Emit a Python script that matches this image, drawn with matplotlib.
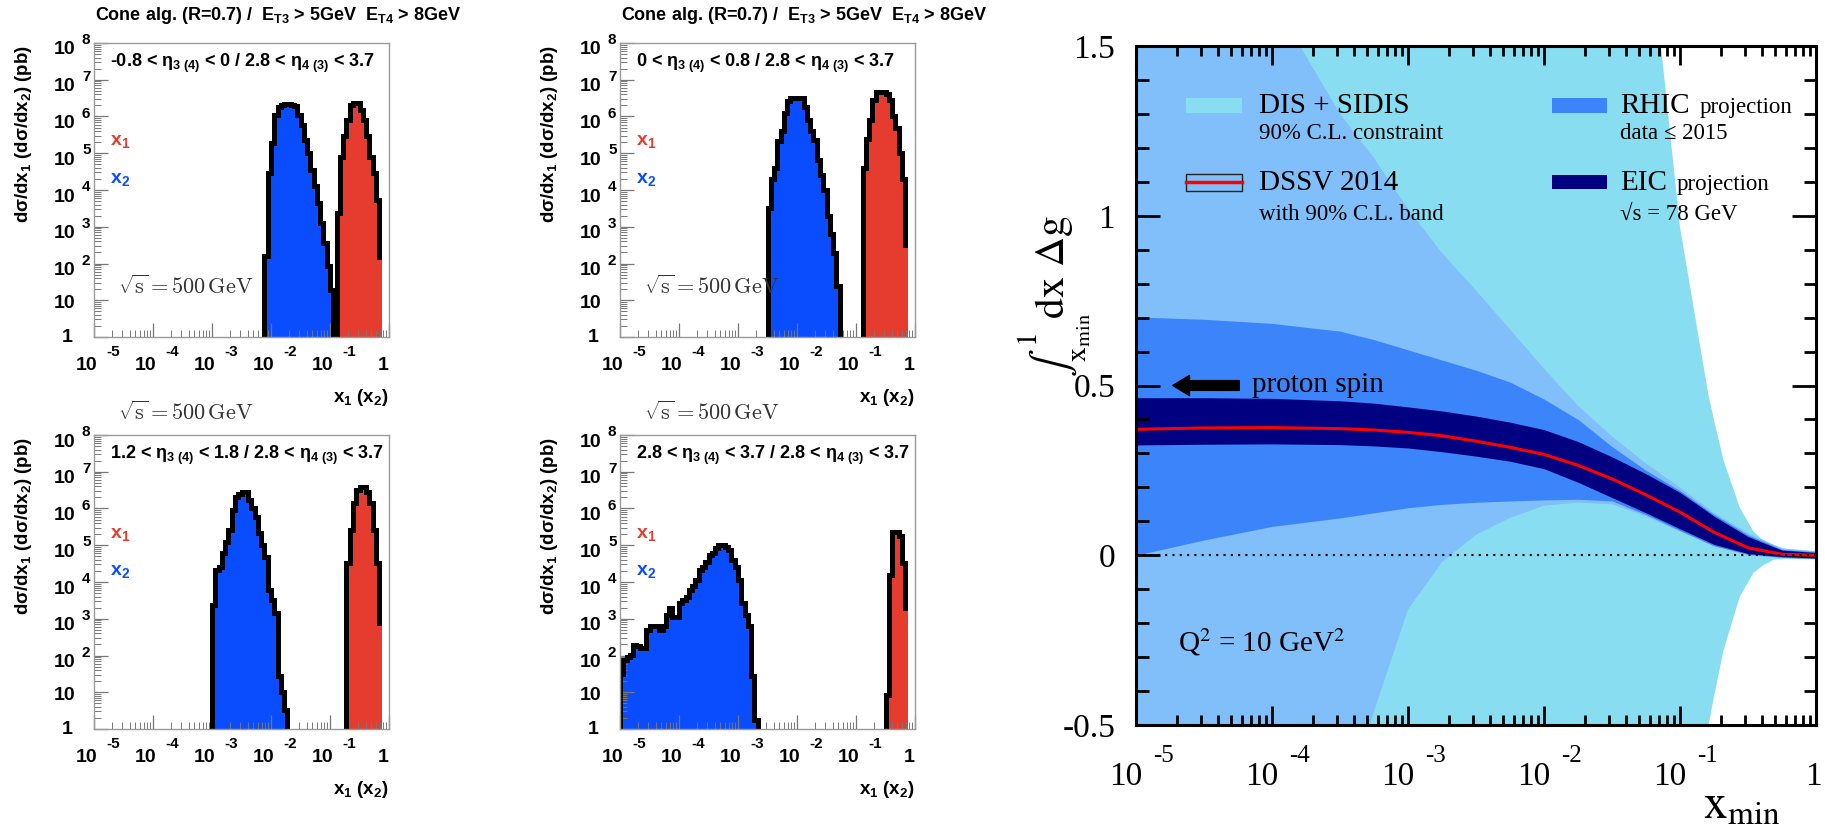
import numpy as np
import matplotlib
matplotlib.use("Agg")
import matplotlib.pyplot as plt
from matplotlib.patches import Rectangle
from matplotlib.ticker import LogLocator, MultipleLocator, NullFormatter, FuncFormatter

plt.rcParams["font.family"] = "Liberation Sans"
plt.rcParams["mathtext.fontset"] = "custom"
plt.rcParams["mathtext.rm"] = "Liberation Sans:bold"
plt.rcParams["mathtext.it"] = "Liberation Sans:bold"
plt.rcParams["mathtext.bf"] = "Liberation Sans:bold"
plt.rcParams["mathtext.sf"] = "Liberation Sans:bold"

W, H = 1825, 838

# ---------------- x1 / x2 distributions (log10 of dsigma/dx per bin) ----------------
# 18 log bins per decade between x = 1e-5 and 1
edges = np.linspace(-5.0, 0.0, 91)

cut_tl = r"-0.8 < η$_{3\ (4)}$ < 0 / 2.8 < η$_{4\ (3)}$ < 3.7"
cut_tr = r"0 < η$_{3\ (4)}$ < 0.8 / 2.8 < η$_{4\ (3)}$ < 3.7"
cut_bl = r"1.2 < η$_{3\ (4)}$ < 1.8 / 2.8 < η$_{4\ (3)}$ < 3.7"
cut_br = r"2.8 < η$_{3\ (4)}$ < 3.7 / 2.8 < η$_{4\ (3)}$ < 3.7"

tl_x2_first = 52
tl_x2 = [2.2, 4.46, 5.28, 6.05, 6.27, 6.31, 6.33, 6.33, 6.31, 6.28, 6.05, 5.78,
         5.37, 5.0, 4.55, 4.1, 3.64, 3.1, 2.56, 1.92, 1.29]
tl_x1_first = 74
tl_x1 = [3.37, 4.91, 5.46, 5.91, 6.3, 6.37, 6.37, 6.18, 5.91, 5.46, 4.91, 4.46, 3.74, 2.19]

tr_x2_first = 45
tr_x2 = [3.51, 4.3, 4.6, 5.32, 5.6, 6.1, 6.41, 6.5, 6.5, 6.5, 6.5, 6.27, 5.91, 5.6,
         5.37, 4.82, 4.4, 4.0, 3.28, 2.8, 2.29, 1.38]
tr_x1_first = 74
tr_x1 = [4.6, 5.4, 5.9, 6.45, 6.68, 6.68, 6.68, 6.6, 6.45, 6.0, 5.7, 5.0, 4.3, 2.51]

bl_x2_first = 36
bl_x2 = [3.38, 4.33, 4.4, 4.78, 5.1, 5.42, 5.96, 6.32, 6.4, 6.46, 6.46, 6.23, 6.0,
         5.78, 5.33, 5.0, 4.69, 3.79, 3.5, 3.15, 1.43, 1.0, 0.53]
bl_x1_first = 77
bl_x1 = [4.51, 5.42, 6.14, 6.5, 6.59, 6.59, 6.46, 6.14, 5.42, 4.51, 2.88]

br_x2_first = 0
br_x2 = [1.5, 1.88, 1.95, 2.02, 2.29, 2.25, 2.2, 2.2, 2.7, 2.79, 2.79, 2.79, 2.7, 2.8,
         3.1, 3.29, 3.06, 3.06, 3.42, 3.5, 3.6, 3.78, 3.9, 4.06, 4.33, 4.4, 4.55, 4.74,
         4.8, 4.92, 5.01, 5.01, 4.95, 4.87, 4.6, 4.4, 4.06, 3.42, 3.1, 2.79, 1.43, 0.25]
br_x1_first = 81
br_x1 = [0.93, 4.19, 5.37, 5.37, 5.24, 4.51, 3.29]

# ---------------- integrated Delta g bands vs log10(x_min) ----------------
lx = [-5, -4.5, -4, -3.5, -3.25, -3, -2.75, -2.5, -2.25, -2, -1.75, -1.5, -1.25, -1,
      -0.75, -0.5, -0.25, 0]
dssv_hi = [2.2, 1.95, 1.64, 1.30, 1.17, 1.02, 0.89, 0.78, 0.665, 0.55, 0.44, 0.35, 0.27,
           0.2, 0.125, 0.065, 0.02, 0.012]
dssv_lo = [-1.6, -1.4, -1.15, -0.8, -0.46, -0.16, -0.02, 0.06, 0.11, 0.146, 0.155, 0.15,
           0.115, 0.07, 0.027, 0.0, -0.008, -0.012]
rhic_hi = [0.702, 0.695, 0.683, 0.66, 0.635, 0.605, 0.575, 0.545, 0.51, 0.46, 0.40, 0.32,
           0.25, 0.19, 0.12, 0.06, 0.017, 0.01]
rhic_lo = [0.0, 0.045, 0.085, 0.11, 0.125, 0.14, 0.15, 0.156, 0.16, 0.163, 0.165, 0.16,
           0.12, 0.073, 0.028, 0.003, -0.006, -0.01]
eic_hi = [0.464, 0.464, 0.462, 0.455, 0.448, 0.437, 0.425, 0.41, 0.392, 0.37, 0.335, 0.29,
          0.24, 0.185, 0.115, 0.055, 0.015, 0.008]
eic_lo = [0.325, 0.327, 0.328, 0.326, 0.322, 0.316, 0.305, 0.292, 0.277, 0.255, 0.215,
          0.17, 0.125, 0.078, 0.032, 0.005, -0.004, -0.008]
dssv_c = [0.371, 0.375, 0.376, 0.373, 0.369, 0.362, 0.352, 0.336, 0.318, 0.297, 0.265,
          0.225, 0.178, 0.127, 0.068, 0.022, 0.003, 0.0]

# DIS + SIDIS band sampled on its own grid (sharp edges near x ~ 0.1)
dis_lx = [-5, -2, -1.5, -1.25, -1.14, -1, -0.9, -0.79, -0.75, -0.68, -0.56, -0.46, -0.39,
          -0.31, -0.2, 0]
dis_hi = [6, 4.8, 2.9, 1.92, 1.5, 0.967, 0.73, 0.47, 0.398, 0.28, 0.14, 0.07, 0.045,
          0.03, 0.015, 0.01]
dis_lo = [-6, -3.5, -2.5, -1.9, -1.6, -1.2, -0.85, -0.5, -0.417, -0.28, -0.122, -0.052,
          -0.03, -0.013, -0.01, -0.01]

BLUE = "#0a4cff"
RED = "#e63c2f"
SANS = dict(fontfamily="Liberation Sans", fontweight="bold")
SERIF = dict(fontfamily="Liberation Serif", math_fontfamily="stix")

fig = plt.figure(figsize=(W / 100, H / 100), dpi=100)


def px_rect(l, t, r, b):
    return [l / W, 1 - b / H, (r - l) / W, (b - t) / H]


def fxy(x, y):
    return x / W, 1 - y / H


def draw_hist(ax, first, logvals, color, close_right=True):
    xe = 10.0 ** edges[first:first + len(logvals) + 1]
    vals = 10.0 ** np.asarray(logvals)
    ax.stairs(vals, xe, baseline=1.0, fill=True, color=color, lw=0)
    xs = np.repeat(xe, 2)
    ys = np.concatenate([[1.0], np.repeat(vals, 2), [1.0]])
    if not close_right:
        xs, ys = xs[:-2], ys[:-2]
    ax.plot(xs, ys, color="k", lw=3.6, solid_joinstyle="miter")


def root_axes(rect):
    ax = fig.add_axes(px_rect(*rect))
    ax.set_xscale("log")
    ax.set_yscale("log")
    ax.set_xlim(1e-5, 1)
    ax.set_ylim(1, 1e8)
    for s in ax.spines.values():
        s.set_color("#9a9a9a")
        s.set_linewidth(1.0)
    for axis in (ax.xaxis, ax.yaxis):
        axis.set_major_locator(LogLocator(10, numticks=12))
        axis.set_minor_locator(LogLocator(10, subs=np.arange(2, 10), numticks=12))
        axis.set_minor_formatter(NullFormatter())
    ax.tick_params(which="both", direction="in", colors="#777777", labelleft=False,
                   labelbottom=False, top=False, right=False)
    ax.tick_params(which="major", length=10, width=0.9)
    ax.tick_params(which="minor", length=5, width=0.7)
    kw = dict(xycoords="axes fraction", textcoords="offset pixels", color="k", **SANS)
    for n in range(9):
        yf = n / 8
        if n == 0:
            ax.annotate("1", (0, yf), (-21, 0), ha="right", va="center", fontsize=14, **kw)
        elif n == 1:
            ax.annotate("10", (0, yf), (-19, -3), ha="right", va="center", fontsize=14, **kw)
        else:
            ax.annotate("10", (0, yf), (-19, -7), ha="right", va="center", fontsize=14, **kw)
            ax.annotate(str(n), (0, yf), (-12, 3), ha="left", va="center", fontsize=11, **kw)
    for m in range(-5, 1):
        xf = (m + 5) / 5
        if m == 0:
            ax.annotate("1", (xf, 0), (-6, -28), ha="center", va="center", fontsize=14, **kw)
        else:
            ax.annotate("10", (xf, 0), (-7, -28), ha="center", va="center", fontsize=14, **kw)
            ax.annotate(str(m), (xf, 0), (19, -15), ha="center", va="center", fontsize=11, **kw)
    return ax


panels = [
    ((94, 43, 389, 337), cut_tl, tl_x2_first, tl_x2, tl_x1_first, tl_x1),
    ((620, 43, 915, 337), cut_tr, tr_x2_first, tr_x2, tr_x1_first, tr_x1),
    ((94, 435, 389, 729), cut_bl, bl_x2_first, bl_x2, bl_x1_first, bl_x1),
    ((620, 435, 915, 729), cut_br, br_x2_first, br_x2, br_x1_first, br_x1),
]

for rect, cut, f2, v2, f1, v1 in panels:
    ax = root_axes(rect)
    draw_hist(ax, f2, v2, BLUE, close_right=True)
    draw_hist(ax, f1, v1, RED, close_right=False)
    l, t, r, b = rect
    fig.text(*fxy(l + 16, t + 20), cut, ha="left", va="center", fontsize=13, **SANS)
    fig.text(*fxy(l + 16, t + 99), r"x$_1$", color=RED, ha="left", va="center", fontsize=14, **SANS)
    fig.text(*fxy(l + 16, t + 137), r"x$_2$", color=BLUE, ha="left", va="center", fontsize=14, **SANS)
    fig.text(*fxy(l - 70, t + 2), r"dσ/dx$_1$ (dσ/dx$_2$) (pb)", rotation=90, ha="center",
             va="top", fontsize=13.5, **SANS)
    fig.text(*fxy(r, b + 60), r"x$_1$ (x$_2$)", ha="right", va="center", fontsize=13.5, **SANS)
    if t < 100:
        fig.text(*fxy(l + 1, 16),
                 r"Cone alg. (R=0.7) /  E$_{\rm T3}$ > 5GeV  E$_{\rm T4}$ > 8GeV",
                 ha="left", va="center", fontsize=13, **SANS)
        sq_y = t + 244
    else:
        sq_y = t - 22
    fig.text(*fxy(l + 24, sq_y), r"$\sqrt{\rm s} = 500\,{\rm GeV}$", math_fontfamily="cm",
             color="#333333", ha="left", va="center", fontsize=16)

# ---------------- right panel: truncated moment of Delta g ----------------
ax = fig.add_axes(px_rect(1136, 46, 1816, 725))
xg = 10.0 ** np.asarray(lx)
xd = 10.0 ** np.asarray(dis_lx)
ax.fill_between(xd, dis_lo, dis_hi, color="#89ddf1", lw=0)
ax.fill_between(xg, dssv_lo, dssv_hi, color="#80bffa", lw=0)
ax.fill_between(xg, rhic_lo, rhic_hi, color="#3b84f9", lw=0)
ax.fill_between(xg, eic_lo, eic_hi, color="#000080", lw=0)
ax.plot(xg, dssv_c, color="#ff0000", lw=2.2)
ax.axhline(0, color="k", lw=1.5, ls=(0, (1, 2.5)))

ax.set_xscale("log")
ax.set_xlim(1e-5, 1)
ax.set_ylim(-0.5, 1.5)
for s in ax.spines.values():
    s.set_linewidth(2.2)
ax.xaxis.set_major_locator(LogLocator(10, numticks=12))
ax.xaxis.set_minor_locator(LogLocator(10, subs=np.arange(2, 10), numticks=12))
ax.xaxis.set_major_formatter(NullFormatter())
ax.xaxis.set_minor_formatter(NullFormatter())
ax.yaxis.set_major_locator(MultipleLocator(0.5))
ax.yaxis.set_minor_locator(MultipleLocator(0.1))
ax.yaxis.set_major_formatter(FuncFormatter(lambda v, _: f"{v:g}"))
ax.tick_params(which="both", direction="in", top=True, right=True, width=2)
ax.tick_params(axis="x", which="major", length=14)
ax.tick_params(axis="x", which="minor", length=7.5)
ax.tick_params(axis="y", which="major", length=17, pad=15, labelsize=24,
               labelfontfamily="Liberation Serif")
ax.tick_params(axis="y", which="minor", length=9)

tkw = dict(xycoords=("data", "axes fraction"), textcoords="offset pixels", **SERIF)
for m in range(-5, 1):
    if m == 0:
        ax.annotate("1", (1.0, 0), (-3, -60), ha="center", va="baseline", fontsize=24, **tkw)
    else:
        ax.annotate("10", (10.0 ** m, 0), (-10, -60), ha="center", va="baseline", fontsize=24, **tkw)
        ax.annotate(str(m), (10.0 ** m, 0), (17, -37), ha="left", va="baseline", fontsize=18, **tkw)

fig.text(*fxy(1055, 296), r"$\int_{\rm x_{min}}^{1}\!{\rm dx}\ \Delta{\rm g}$", rotation=90,
         ha="center", va="center", fontsize=30, **SERIF)
fig.text(*fxy(1703, 819), r"${\rm x}_{\rm min}$", ha="left", va="baseline", fontsize=34, **SERIF)


# legend block, placed in axes fraction
def afx(x, y):
    return (x - 1136) / 680, (725 - y) / 679


for (x0, y0, x1, y1), col in [((1186, 98, 1242, 113), "#89ddf1"),
                              ((1552, 98, 1607, 113), "#3b84f9"),
                              ((1552, 175, 1607, 189), "#000080")]:
    ax.add_patch(Rectangle(afx(x0, y1), (x1 - x0) / 680, (y1 - y0) / 679,
                           transform=ax.transAxes, color=col, lw=0, zorder=5))
ax.add_patch(Rectangle(afx(1186, 191), 56 / 680, 17 / 679, transform=ax.transAxes,
                       fc="#80bffa", ec="#222222", lw=1.0, zorder=5))
ax.plot([afx(1186, 0)[0], afx(1242, 0)[0]], [afx(0, 182.5)[1]] * 2, transform=ax.transAxes,
        color="#ff0000", lw=2.5, zorder=6)

ax.text(*afx(1259, 113), "DIS + SIDIS", transform=ax.transAxes, fontsize=21, **SERIF)
ax.text(*afx(1259, 139), "90% C.L. constraint", transform=ax.transAxes, fontsize=16.5, **SERIF)
ax.text(*afx(1259, 190), "DSSV 2014", transform=ax.transAxes, fontsize=21, **SERIF)
ax.text(*afx(1259, 220), "with 90% C.L. band", transform=ax.transAxes, fontsize=16.5, **SERIF)
ax.text(*afx(1620, 113), "RHIC", transform=ax.transAxes, fontsize=21, **SERIF)
ax.text(*afx(1700, 113), "projection", transform=ax.transAxes, fontsize=16.5, **SERIF)
ax.text(*afx(1620, 139), "data ≤ 2015", transform=ax.transAxes, fontsize=16.5, **SERIF)
ax.text(*afx(1620, 190), "EIC", transform=ax.transAxes, fontsize=21, **SERIF)
ax.text(*afx(1677, 190), "projection", transform=ax.transAxes, fontsize=16.5, **SERIF)
ax.text(*afx(1620, 220), "√s = 78 GeV", transform=ax.transAxes, fontsize=16.5, **SERIF)

ax.annotate("", xy=(10 ** -4.75, 0.5), xytext=(10 ** -4.22, 0.5),
            arrowprops=dict(arrowstyle="simple,head_length=1.2,head_width=1.45,tail_width=0.7",
                            mutation_scale=10, fc="k", ec="k"))
ax.text(10 ** -4.146, 0.481, "proton spin", ha="left", va="baseline", fontsize=21, **SERIF)
ax.text(10 ** -4.69, -0.284, r"Q$^2$ = 10 GeV$^2$", ha="left", va="baseline", fontsize=21, **SERIF)

fig.savefig("out.png", dpi=100)
